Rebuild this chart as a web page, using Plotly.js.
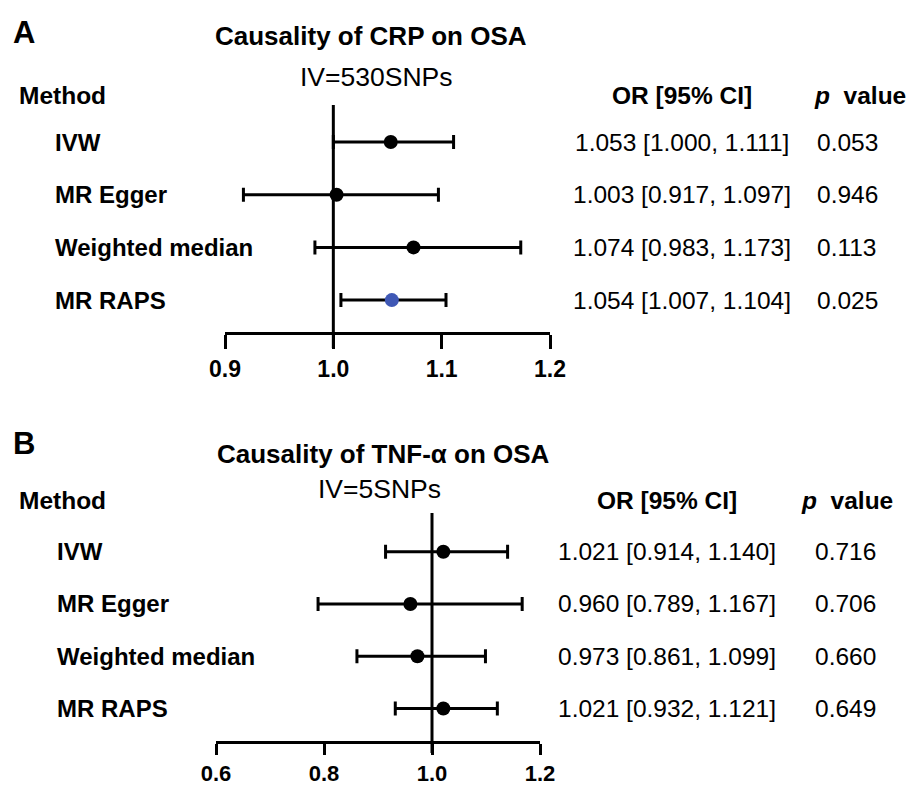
<!DOCTYPE html>
<html>
<head>
<meta charset="utf-8">
<script src="https://cdn.plot.ly/plotly-3.0.1.min.js"></script>
<style>html,body{margin:0;padding:0;background:#fff;}#chart{width:908px;height:787px;}</style>
</head>
<body>
<div id="chart"></div>
<script>
// ---- data ----
const methods = ['IVW', 'MR Egger', 'Weighted median', 'MR RAPS'];
const refValue = 1.0;

const crpTitle = 'Causality of CRP on OSA';
const crpIV = 'IV=530SNPs';
const crpOR = [1.053, 1.003, 1.074, 1.054];
const crpLo = [1.000, 0.917, 0.983, 1.007];
const crpHi = [1.111, 1.097, 1.173, 1.104];
const crpP  = ['0.053', '0.946', '0.113', '0.025'];
const crpTicks = [0.9, 1.0, 1.1, 1.2];

const tnfTitle = 'Causality of TNF-α on OSA';
const tnfIV = 'IV=5SNPs';
const tnfOR = [1.021, 0.960, 0.973, 1.021];
const tnfLo = [0.914, 0.789, 0.861, 0.932];
const tnfHi = [1.140, 1.167, 1.099, 1.121];
const tnfP  = ['0.716', '0.706', '0.660', '0.649'];
const tnfTicks = [0.6, 0.8, 1.0, 1.2];

// ---- helpers ----
const W = 908, H = 787;
const FONT = 'Liberation Sans, Arial, Helvetica, sans-serif';
const px = x => x / W;
const py = y => 1 - y / H;
const rowIdx = methods.map((m, i) => i);
const fmt = v => v.toFixed(3);

function forest(or, lo, hi, colors, xa, ya) {
  return {
    type: 'scatter', mode: 'markers', xaxis: xa, yaxis: ya,
    x: or, y: rowIdx,
    marker: { size: 14, color: colors },
    error_x: {
      type: 'data', symmetric: false,
      array: hi.map((h, i) => h - or[i]),
      arrayminus: lo.map((l, i) => or[i] - l),
      color: '#000', thickness: 3, width: 7
    },
    hoverinfo: 'skip', cliponaxis: false
  };
}

const traces = [
  forest(crpOR, crpLo, crpHi, ['#000', '#000', '#000', '#3f58b5'], 'x', 'y'),
  forest(tnfOR, tnfLo, tnfHi, ['#000', '#000', '#000', '#000'], 'x2', 'y2')
];

function axisX(domain, range, ticks, posY, tlen, fsize) {
  return {
    domain: domain, range: range, anchor: 'free', position: posY,
    showline: true, linewidth: 3, linecolor: '#000',
    ticks: 'outside', ticklen: tlen, tickwidth: 3, tickcolor: '#000',
    tickvals: ticks, ticktext: ticks.map(t => t.toFixed(1)),
    tickfont: { family: FONT, size: fsize, color: '#000', weight: 'bold' },
    showgrid: false, zeroline: false, fixedrange: true
  };
}
function axisY(domain, range) {
  return { domain: domain, range: range, visible: false, fixedrange: true, showgrid: false, zeroline: false };
}

const ann = [];
function txt(text, x, y, size, opts) {
  ann.push(Object.assign({
    text: text, x: x, y: y, xref: 'paper', yref: 'paper',
    showarrow: false, xanchor: 'center', yanchor: 'middle',
    font: { family: FONT, size: size, color: '#000' }
  }, opts || {}));
}

function panel(letter, letterY, title, titleX, titleY, iv, ivX, ivY, headY, orX, pX, pHeadX,
               or, lo, hi, p, yref, labelX) {
  txt('<b>' + letter + '</b>', px(11), py(letterY), 31, { xanchor: 'left' });
  txt('<b>' + title + '</b>', px(titleX), py(titleY), 26);
  txt(iv, px(ivX), py(ivY), 26.5);
  txt('<b>Method</b>', px(17), py(headY), 24.5, { xanchor: 'left' });
  txt('<b>OR [95% CI]</b>', px(orX), py(headY), 24.5);
  txt('<b><i>p</i>&nbsp; value</b>', px(pHeadX), py(headY), 24.5);
  methods.forEach((m, i) => {
    ann.push({ text: '<b>' + m + '</b>', x: px(labelX), y: i, xref: 'paper', yref: yref,
      showarrow: false, xanchor: 'left', yanchor: 'middle',
      font: { family: FONT, size: 24, color: '#000' } });
    ann.push({ text: fmt(or[i]) + ' [' + fmt(lo[i]) + ', ' + fmt(hi[i]) + ']', x: px(orX), y: i,
      xref: 'paper', yref: yref, showarrow: false, xanchor: 'center', yanchor: 'middle',
      font: { family: FONT, size: 24.5, color: '#000' } });
    ann.push({ text: p[i], x: px(pX), y: i, xref: 'paper', yref: yref,
      showarrow: false, xanchor: 'center', yanchor: 'middle',
      font: { family: FONT, size: 24.5, color: '#000' } });
  });
}

panel('A', 32, crpTitle, 371, 36, crpIV, 376, 77, 95, 682, 847, 860, crpOR, crpLo, crpHi, crpP, 'y', 53);
panel('B', 443, tnfTitle, 383, 454, tnfIV, 379, 489, 500, 667, 845, 847, tnfOR, tnfLo, tnfHi, tnfP, 'y2', 55);

const layout = {
  width: W, height: H,
  margin: { l: 0, r: 0, t: 0, b: 0, pad: 0 },
  paper_bgcolor: '#fff', plot_bgcolor: 'rgba(0,0,0,0)',
  showlegend: false,
  font: { family: FONT, color: '#000' },
  xaxis: axisX([px(225), px(550)], [0.9, 1.2], crpTicks, py(333), 14, 23),
  yaxis: axisY([py(348), py(105)], [3.909, -0.702]),
  xaxis2: axisX([px(216), px(540)], [0.6, 1.2], tnfTicks, py(742), 11, 22),
  yaxis2: axisY([py(753), py(513)], [3.85, -0.74]),
  shapes: [
    { type: 'line', xref: 'x', yref: 'y', x0: refValue, x1: refValue, y0: -0.702, y1: 3.909,
      line: { color: '#000', width: 3 }, layer: 'below' },
    { type: 'line', xref: 'x2', yref: 'y2', x0: refValue, x1: refValue, y0: -0.74, y1: 3.85,
      line: { color: '#000', width: 3 }, layer: 'below' }
  ],
  annotations: ann
};

Plotly.newPlot('chart', traces, layout, { staticPlot: true, displayModeBar: false });
</script>
</body>
</html>
